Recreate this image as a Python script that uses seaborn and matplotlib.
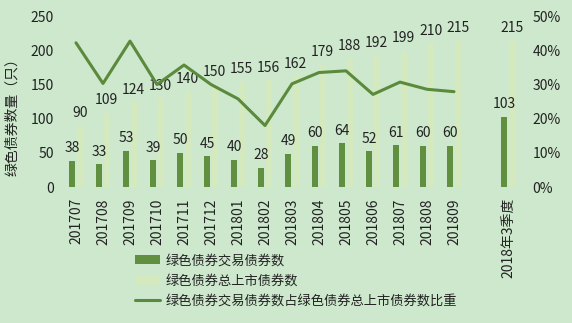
import numpy as np
import pandas as pd
import matplotlib
matplotlib.use("Agg")
import matplotlib.pyplot as plt
import seaborn as sns
from matplotlib.patches import Patch
from matplotlib.lines import Line2D

months = ["201707", "201708", "201709", "201710", "201711", "201712", "201801",
          "201802", "201803", "201804", "201805", "201806", "201807", "201808", "201809"]
quarter_label = "2018年3季度"
traded = [38, 33, 53, 39, 50, 45, 40, 28, 49, 60, 64, 52, 61, 60, 60]
listed = [90, 109, 124, 130, 140, 150, 155, 156, 162, 179, 188, 192, 199, 210, 215]
quarter_traded = 103
quarter_listed = 215
ratio = [0.422, 0.303, 0.427, 0.300, 0.357, 0.300, 0.258, 0.180, 0.302,
         0.335, 0.340, 0.271, 0.307, 0.286, 0.279]

s_trade = "绿色债券交易债券数"
s_list = "绿色债券总上市债券数"
s_ratio = "绿色债券交易债券数占绿色债券总上市债券数比重"

cats = months + [quarter_label]
order = months + [" "] + [quarter_label]
df = pd.DataFrame({
    "cat": cats * 2,
    "val": traded + [quarter_traded] + listed + [quarter_listed],
    "series": [s_trade] * len(cats) + [s_list] * len(cats),
})

BG = "#cde8cd"
DARK = "#5f8f3f"
LIGHT = "#d5e9be"
LINE = "#5b8a3c"
TXT = "#222222"

sns.set_theme(style="white")
plt.rcParams["font.family"] = ["Noto Sans CJK SC", "DejaVu Sans"]

fig = plt.figure(figsize=(5.72, 3.23), dpi=100, facecolor=BG)
ax = fig.add_axes([62.5 / 572, 0.421, 459 / 572, 0.529])
ax.set_facecolor(BG)

sns.barplot(data=df, x="cat", y="val", hue="series", order=order,
            hue_order=[s_trade, s_list], palette=[DARK, LIGHT],
            width=0.56, gap=0.2, dodge=True, legend=False, ax=ax,
            saturation=1, linewidth=0, edgecolor="none", err_kws={"linewidth": 0})

for cont in ax.containers:
    ax.bar_label(cont, fmt="%d", padding=4, fontsize=10, color=TXT)

ax.set_ylim(0, 250)
ax.set_yticks([0, 50, 100, 150, 200, 250])
ax.set_xlim(-0.5, len(order) - 0.5)
ax.set_xlabel("")
ax.set_ylabel("绿色债券数量（只）", fontsize=10, color=TXT)
ax.yaxis.set_label_coords(-0.094, 0.43)
ax.tick_params(axis="x", length=0, pad=8, labelsize=10, labelcolor=TXT, rotation=90)
ax.tick_params(axis="y", length=0, pad=6, labelsize=10, labelcolor=TXT)
for s in ax.spines.values():
    s.set_visible(False)

ax2 = ax.twinx()
sns.lineplot(x=np.arange(len(months)), y=ratio, color=LINE, linewidth=2.2, ax=ax2)
ax2.set_ylim(0, 0.5)
ax2.set_yticks([0, 0.1, 0.2, 0.3, 0.4, 0.5])
ax2.set_yticklabels(["0%", "10%", "20%", "30%", "40%", "50%"])
ax2.tick_params(axis="y", length=0, pad=8, labelsize=10, labelcolor=TXT)
for s in ax2.spines.values():
    s.set_visible(False)
ax2.grid(False)
ax.grid(False)

handles = [Patch(facecolor=DARK, edgecolor="none"),
           Patch(facecolor=LIGHT, edgecolor="none"),
           Line2D([0], [0], color=LINE, linewidth=2.2)]
fig.legend(handles, [s_trade, s_list, s_ratio], loc="center left",
           bbox_to_anchor=(128 / 572, 1 - 281 / 323), frameon=False,
           fontsize=9.5, handlelength=1.95, handletextpad=0.4,
           labelspacing=0.55, borderpad=0, labelcolor=TXT)

fig.savefig("out.png", dpi=100, facecolor=BG)
